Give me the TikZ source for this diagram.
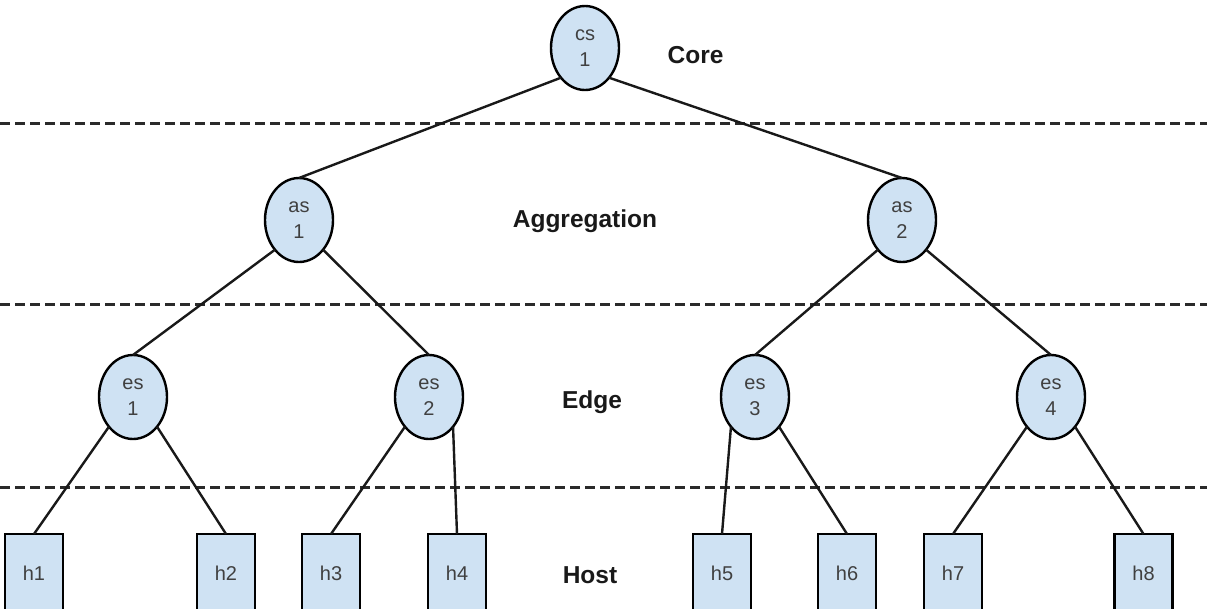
\documentclass[tikz,border=0pt]{standalone}
\usepackage{fontspec}
\setmainfont{Liberation Sans}
\usetikzlibrary{shapes.geometric}
\definecolor{nodefill}{HTML}{CFE2F3}
\definecolor{nodetext}{HTML}{404040}
\definecolor{sepcol}{HTML}{2A2A2A}
\begin{document}
\begin{tikzpicture}[x=1pt,y=-1pt,
  sw/.style={ellipse, draw=black, line width=2.4pt, fill=nodefill, minimum width=68pt, minimum height=84pt, inner sep=0pt, outer sep=0pt, align=center, text=nodetext, font=\fontsize{20}{26}\selectfont},
  host/.style={rectangle, draw=black, line width=2.6pt, fill=nodefill, minimum width=58pt, minimum height=78pt, inner sep=0pt, outer sep=0pt, anchor=north, text=nodetext, font=\fontsize{20}{24}\selectfont},
  layer/.style={anchor=base, inner sep=0pt, font=\fontsize{24.5}{28}\selectfont\bfseries, text=black!90},
  link/.style={line width=2.4pt, draw=black!90},
  sep/.style={line width=3pt, draw=sepcol, dash pattern=on 10pt off 5pt}]
\useasboundingbox (0,0) rectangle (1207,608);
\clip (0,0) rectangle (1207,608);

% layer separators
\coordinate (s1a) at (0,123);  \coordinate (s1b) at (1207,123);
\coordinate (s2a) at (0,304);  \coordinate (s2b) at (1207,304);
\coordinate (s3a) at (0,487);  \coordinate (s3b) at (1207,487);
\draw[sep] (s1a) -- (s1b);
\draw[sep] (s2a) -- (s2b);
\draw[sep] (s3a) -- (s3b);

% links (drawn before nodes so the nodes sit on top)
\node[sw] (cs1) at (585,48) {cs\\1};
\node[sw] (as1) at (299,220) {as\\1};
\node[sw] (as2) at (902,220) {as\\2};
\node[sw] (es1) at (133,397) {es\\1};
\node[sw] (es2) at (429,397) {es\\2};
\node[sw] (es3) at (755,397) {es\\3};
\node[sw] (es4) at (1051,397) {es\\4};

% hosts
\node[host] (h1) at (34,534) {h1};
\node[host] (h2) at (226,534) {h2};
\node[host] (h3) at (331,534) {h3};
\node[host] (h4) at (457,534) {h4};
\node[host] (h5) at (722,534) {h5};
\node[host] (h6) at (847,534) {h6};
\node[host] (h7) at (953,534) {h7};
\node[host] (h8) at (1143.5,534) {h8};

% links
\draw[link] (cs1.south west) -- (as1.north);
\draw[link] (cs1.south east) -- (as2.north);
\draw[link] (as1.south west) -- (es1.north);
\draw[link] (as1.south east) -- (es2.north);
\draw[link] (as2.south west) -- (es3.north);
\draw[link] (as2.south east) -- (es4.north);
\draw[link] (es1.south west) -- (h1.north);
\draw[link] (es1.south east) -- (h2.north);
\draw[link] (es2.south west) -- (h3.north);
\draw[link] (es2.south east) -- (h4.north);
\draw[link] (es3.south west) -- (h5.north);
\draw[link] (es3.south east) -- (h6.north);
\draw[link] (es4.south west) -- (h7.north);
\draw[link] (es4.south east) -- (h8.north);

% layer labels
\node[layer] (lcore) at (695.5,63) {Core};
\node[layer] (lagg) at (585,227) {Aggregation};
\node[layer] (ledge) at (592,408) {Edge};
\node[layer] (lhost) at (590,583) {Host};
\end{tikzpicture}
\end{document}
